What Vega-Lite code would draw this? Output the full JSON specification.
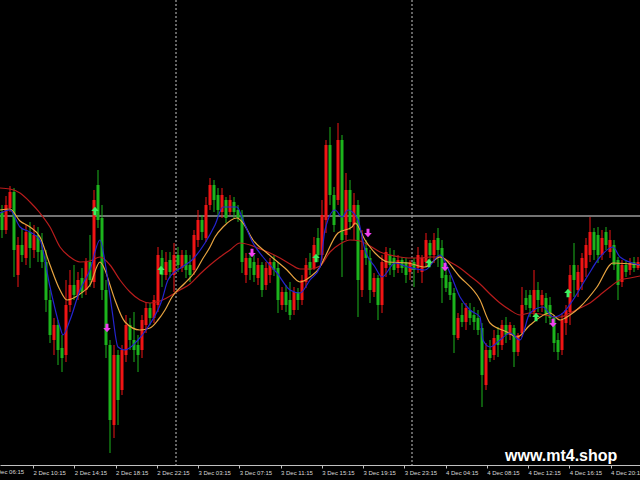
{
"$schema": "https://vega.github.io/schema/vega-lite/v6.json",
"width": 640, "height": 465,
"autosize": {"type": "none"},
"padding": {"left": 0, "top": 0, "right": 0, "bottom": 15},
"background": "#000000",
"config": {"view": {"stroke": null}, "font": "Liberation Sans"},
"datasets": {
"sep": [{"i": 43.5}, {"i": 102.5}],
"candles": [
{"i":0,"o":253,"c":235,"h":260,"l":227},{"i":1,"o":235,"c":260,"h":269,"l":231},{"i":2,"o":257,"c":273,"h":279,"l":253},{"i":3,"o":273,"c":215,"h":277,"l":188},{"i":4,"o":190,"c":220,"h":228,"l":178},
{"i":5,"o":220,"c":210,"h":237,"l":203},{"i":6,"o":207,"c":233,"h":240,"l":200},{"i":7,"o":233,"c":217,"h":243,"l":197},{"i":8,"o":215,"c":230,"h":240,"l":207},{"i":9,"o":230,"c":213,"h":238,"l":203},
{"i":10,"o":215,"c":203,"h":232,"l":197},{"i":11,"o":203,"c":165,"h":215,"l":153},{"i":12,"o":165,"c":130,"h":175,"l":122},{"i":13,"o":125,"c":140,"h":147,"l":110},{"i":14,"o":140,"c":115,"h":145,"l":100},
{"i":15,"o":117,"c":107,"h":130,"l":93},{"i":16,"o":110,"c":160,"h":185,"l":103},{"i":17,"o":160,"c":180,"h":195,"l":153},{"i":18,"o":180,"c":170,"h":200,"l":165},{"i":19,"o":170,"c":185,"h":193,"l":165},
{"i":20,"o":187,"c":173,"h":197,"l":167},{"i":21,"o":175,"c":203,"h":207,"l":170},{"i":22,"o":203,"c":185,"h":230,"l":178},{"i":23,"o":183,"c":265,"h":275,"l":177},{"i":24,"o":280,"c":245,"h":295,"l":237},
{"i":25,"o":247,"c":175,"h":260,"l":165},{"i":26,"o":175,"c":120,"h":185,"l":107},{"i":27,"o":120,"c":45,"h":125,"l":12},{"i":28,"o":40,"c":110,"h":120,"l":27},{"i":29,"o":110,"c":65,"h":115,"l":40},
{"i":30,"o":75,"c":115,"h":120,"l":70},{"i":31,"o":110,"c":140,"h":150,"l":103},{"i":32,"o":140,"c":125,"h":147,"l":115},{"i":33,"o":125,"c":115,"h":153,"l":103},{"i":34,"o":120,"c":110,"h":130,"l":93},
{"i":35,"o":115,"c":145,"h":150,"l":107},{"i":36,"o":140,"c":157,"h":163,"l":132},{"i":37,"o":157,"c":147,"h":162,"l":140},{"i":38,"o":147,"c":165,"h":170,"l":142},{"i":39,"o":160,"c":210,"h":218,"l":153},
{"i":40,"o":207,"c":190,"h":215,"l":178},{"i":41,"o":190,"c":203,"h":213,"l":185},{"i":42,"o":205,"c":193,"h":213,"l":187},{"i":43,"o":190,"c":210,"h":222,"l":173},{"i":44,"o":210,"c":200,"h":218,"l":193},
{"i":45,"o":197,"c":210,"h":215,"l":193},{"i":46,"o":210,"c":195,"h":215,"l":187},{"i":47,"o":200,"c":190,"h":210,"l":183},{"i":48,"o":195,"c":230,"h":235,"l":190},{"i":49,"o":225,"c":245,"h":255,"l":218},
{"i":50,"o":245,"c":233,"h":250,"l":225},{"i":51,"o":227,"c":260,"h":268,"l":223},{"i":52,"o":260,"c":280,"h":287,"l":255},{"i":53,"o":280,"c":265,"h":285,"l":253},{"i":54,"o":270,"c":255,"h":277,"l":248},
{"i":55,"o":253,"c":270,"h":277,"l":247},{"i":56,"o":265,"c":247,"h":268,"l":242},{"i":57,"o":253,"c":265,"h":270,"l":250},{"i":58,"o":263,"c":253,"h":268,"l":247},{"i":59,"o":255,"c":247,"h":260,"l":243},
{"i":60,"o":250,"c":203,"h":255,"l":192},{"i":61,"o":190,"c":207,"h":212,"l":182},{"i":62,"o":207,"c":197,"h":213,"l":185},{"i":63,"o":203,"c":190,"h":210,"l":183},{"i":64,"o":187,"c":200,"h":207,"l":180},
{"i":65,"o":200,"c":175,"h":203,"l":168},{"i":66,"o":180,"c":197,"h":203,"l":175},{"i":67,"o":190,"c":203,"h":207,"l":182},{"i":68,"o":203,"c":195,"h":210,"l":189},{"i":69,"o":197,"c":165,"h":203,"l":152},
{"i":70,"o":160,"c":173,"h":178,"l":155},{"i":71,"o":173,"c":160,"h":180,"l":153},{"i":72,"o":165,"c":150,"h":183,"l":145},{"i":73,"o":155,"c":173,"h":178,"l":150},{"i":74,"o":173,"c":165,"h":177,"l":155},
{"i":75,"o":165,"c":185,"h":190,"l":160},{"i":76,"o":183,"c":200,"h":207,"l":177},{"i":77,"o":203,"c":195,"h":212,"l":190},{"i":78,"o":197,"c":220,"h":228,"l":195},{"i":79,"o":227,"c":210,"h":237,"l":203},
{"i":80,"o":210,"c":250,"h":265,"l":205},{"i":81,"o":245,"c":320,"h":325,"l":232},{"i":82,"o":320,"c":270,"h":338,"l":260},{"i":83,"o":270,"c":240,"h":278,"l":233},{"i":84,"o":265,"c":325,"h":342,"l":260},
{"i":85,"o":325,"c":225,"h":330,"l":188},{"i":86,"o":230,"c":275,"h":292,"l":225},{"i":87,"o":275,"c":243,"h":285,"l":235},{"i":88,"o":240,"c":260,"h":272,"l":225},{"i":89,"o":260,"c":185,"h":265,"l":148},
{"i":90,"o":175,"c":215,"h":235,"l":168},{"i":91,"o":217,"c":207,"h":225,"l":200},{"i":92,"o":207,"c":175,"h":215,"l":162},{"i":93,"o":173,"c":187,"h":192,"l":168},{"i":94,"o":187,"c":160,"h":190,"l":145},
{"i":95,"o":160,"c":203,"h":210,"l":152},{"i":96,"o":197,"c":213,"h":218,"l":188},{"i":97,"o":210,"c":200,"h":217,"l":190},{"i":98,"o":207,"c":195,"h":215,"l":188},{"i":99,"o":197,"c":205,"h":210,"l":192},
{"i":100,"o":205,"c":197,"h":208,"l":192},{"i":101,"o":203,"c":190,"h":207,"l":182},{"i":102,"o":193,"c":203,"h":205,"l":185},{"i":103,"o":203,"c":195,"h":207,"l":178},{"i":104,"o":197,"c":210,"h":218,"l":192},
{"i":105,"o":193,"c":207,"h":210,"l":182},{"i":106,"o":203,"c":225,"h":232,"l":198},{"i":107,"o":222,"c":210,"h":225,"l":203},{"i":108,"o":210,"c":225,"h":232,"l":202},{"i":109,"o":227,"c":215,"h":237,"l":198},
{"i":110,"o":217,"c":187,"h":225,"l":162},{"i":111,"o":190,"c":177,"h":198,"l":173},{"i":112,"o":183,"c":170,"h":190,"l":165},{"i":113,"o":172,"c":130,"h":177,"l":112},{"i":114,"o":127,"c":147,"h":152,"l":125},
{"i":115,"o":150,"c":143,"h":162,"l":138},{"i":116,"o":143,"c":157,"h":162,"l":135},{"i":117,"o":155,"c":147,"h":162,"l":140},{"i":118,"o":150,"c":143,"h":158,"l":135},{"i":119,"o":147,"c":135,"h":155,"l":130},
{"i":120,"o":137,"c":90,"h":142,"l":58},{"i":121,"o":80,"c":115,"h":122,"l":75},{"i":122,"o":115,"c":107,"h":125,"l":103},{"i":123,"o":110,"c":127,"h":135,"l":105},{"i":124,"o":130,"c":120,"h":138,"l":108},
{"i":125,"o":120,"c":140,"h":145,"l":115},{"i":126,"o":140,"c":130,"h":148,"l":122},{"i":127,"o":130,"c":140,"h":143,"l":125},{"i":128,"o":137,"c":113,"h":140,"l":98},{"i":129,"o":113,"c":130,"h":132,"l":109},
{"i":130,"o":132,"c":160,"h":178,"l":128},{"i":131,"o":167,"c":160,"h":175,"l":155},{"i":132,"o":170,"c":157,"h":175,"l":148},{"i":133,"o":153,"c":175,"h":195,"l":149},{"i":134,"o":175,"c":165,"h":183,"l":153},
{"i":135,"o":160,"c":170,"h":175,"l":153},{"i":136,"o":167,"c":150,"h":172,"l":142},{"i":137,"o":160,"c":147,"h":168,"l":140},{"i":138,"o":147,"c":122,"h":150,"l":113},{"i":139,"o":125,"c":113,"h":132,"l":105},
{"i":140,"o":115,"c":145,"h":152,"l":110},{"i":141,"o":142,"c":155,"h":160,"l":130},{"i":142,"o":153,"c":190,"h":200,"l":140},{"i":143,"o":200,"c":185,"h":222,"l":168},{"i":144,"o":175,"c":193,"h":200,"l":168},
{"i":145,"o":183,"c":207,"h":212,"l":175},{"i":146,"o":197,"c":220,"h":227,"l":188},{"i":147,"o":210,"c":233,"h":248,"l":203},{"i":148,"o":233,"c":215,"h":237,"l":205},{"i":149,"o":230,"c":210,"h":238,"l":202},
{"i":150,"o":210,"c":227,"h":235,"l":205},{"i":151,"o":233,"c":220,"h":238,"l":215},{"i":152,"o":213,"c":225,"h":235,"l":207},{"i":153,"o":220,"c":200,"h":225,"l":195},{"i":154,"o":205,"c":180,"h":208,"l":165},
{"i":155,"o":183,"c":200,"h":205,"l":178},{"i":156,"o":200,"c":193,"h":205,"l":188},{"i":157,"o":195,"c":202,"h":207,"l":190},{"i":158,"o":203,"c":197,"h":208,"l":193},{"i":159,"o":197,"c":203,"h":208,"l":195}
],
"ma": [
{"k":"s","i":-0.5,"v":277},{"k":"s","i":2,"v":276},{"k":"s","i":4.5,"v":272},{"k":"s","i":7,"v":263},{"k":"s","i":9.5,"v":252},{"k":"s","i":12,"v":238},{"k":"s","i":14.5,"v":218},{"k":"s","i":17,"v":208},{"k":"s","i":19.5,"v":203},{"k":"s","i":22,"v":204},{"k":"s","i":24.5,"v":208},{"k":"s","i":27,"v":200},{"k":"s","i":29.5,"v":185},{"k":"s","i":32,"v":173},{"k":"s","i":34.5,"v":165},{"k":"s","i":37,"v":162},{"k":"s","i":39.5,"v":164},{"k":"s","i":42,"v":169},{"k":"s","i":44.5,"v":175},{"k":"s","i":47,"v":181},{"k":"s","i":49.5,"v":191},{"k":"s","i":52,"v":200},{"k":"s","i":54.5,"v":208},{"k":"s","i":57,"v":215},{"k":"s","i":59.5,"v":222},{"k":"s","i":62,"v":220},{"k":"s","i":64.5,"v":216},{"k":"s","i":67,"v":212},{"k":"s","i":69.5,"v":207},{"k":"s","i":72,"v":201},{"k":"s","i":74.5,"v":196},{"k":"s","i":77,"v":196},{"k":"s","i":79.5,"v":199},{"k":"s","i":82,"v":213},{"k":"s","i":84.5,"v":221},{"k":"s","i":87,"v":225},{"k":"s","i":89.5,"v":224},{"k":"s","i":92,"v":219},{"k":"s","i":94.5,"v":213},{"k":"s","i":97,"v":210},{"k":"s","i":99.5,"v":208},{"k":"s","i":102,"v":207},{"k":"s","i":104.5,"v":207},{"k":"s","i":107,"v":208},{"k":"s","i":109.5,"v":208},{"k":"s","i":112,"v":203},{"k":"s","i":114.5,"v":197},{"k":"s","i":117,"v":189},{"k":"s","i":119.5,"v":181},{"k":"s","i":122,"v":171},{"k":"s","i":124.5,"v":162},{"k":"s","i":127,"v":155},{"k":"s","i":129.5,"v":150},{"k":"s","i":132,"v":152},{"k":"s","i":134.5,"v":151},{"k":"s","i":137,"v":149},{"k":"s","i":139.5,"v":148},{"k":"s","i":142,"v":152},{"k":"s","i":144.5,"v":157},{"k":"s","i":147,"v":162},{"k":"s","i":149.5,"v":170},{"k":"s","i":152,"v":178},{"k":"s","i":154.5,"v":185},{"k":"s","i":157,"v":187},{"k":"s","i":159.5,"v":189},
{"k":"m","i":-0.5,"v":255},{"k":"m","i":2,"v":256},{"k":"m","i":4.5,"v":244},{"k":"m","i":7,"v":238},{"k":"m","i":9.5,"v":228},{"k":"m","i":12,"v":200},{"k":"m","i":14.5,"v":175},{"k":"m","i":16.25,"v":165},{"k":"m","i":19.5,"v":171},{"k":"m","i":22,"v":180},{"k":"m","i":24.5,"v":203},{"k":"m","i":25.75,"v":195},{"k":"m","i":27,"v":180},{"k":"m","i":28.25,"v":165},{"k":"m","i":30.75,"v":143},{"k":"m","i":34.5,"v":135},{"k":"m","i":37,"v":137},{"k":"m","i":39,"v":145},{"k":"m","i":40.75,"v":155},{"k":"m","i":42.5,"v":168},{"k":"m","i":45.75,"v":182},{"k":"m","i":48.25,"v":193},{"k":"m","i":50,"v":205},{"k":"m","i":52,"v":218},{"k":"m","i":53.25,"v":228},{"k":"m","i":55.25,"v":238},{"k":"m","i":58.75,"v":247},{"k":"m","i":60.25,"v":242},{"k":"m","i":62.75,"v":225},{"k":"m","i":66.25,"v":212},{"k":"m","i":71.25,"v":195},{"k":"m","i":74.5,"v":183},{"k":"m","i":77,"v":188},{"k":"m","i":79.5,"v":198},{"k":"m","i":80.75,"v":208},{"k":"m","i":84,"v":232},{"k":"m","i":87.5,"v":238},{"k":"m","i":88.25,"v":242},{"k":"m","i":90.75,"v":225},{"k":"m","i":93.25,"v":212},{"k":"m","i":96.5,"v":203},{"k":"m","i":101.5,"v":202},{"k":"m","i":105.75,"v":198},{"k":"m","i":109.5,"v":208},{"k":"m","i":114.5,"v":188},{"k":"m","i":119.5,"v":165},{"k":"m","i":122,"v":142},{"k":"m","i":126.25,"v":133},{"k":"m","i":128.75,"v":128},{"k":"m","i":132,"v":140},{"k":"m","i":137,"v":152},{"k":"m","i":139.5,"v":145},{"k":"m","i":142,"v":150},{"k":"m","i":144.5,"v":158},{"k":"m","i":148.75,"v":178},{"k":"m","i":152.75,"v":202},{"k":"m","i":159.5,"v":200},
{"k":"f","i":-0.5,"v":252},{"k":"f","i":2,"v":255},{"k":"f","i":4.5,"v":238},{"k":"f","i":7,"v":233},{"k":"f","i":9.5,"v":225},{"k":"f","i":12,"v":178},{"k":"f","i":14.5,"v":138},{"k":"f","i":15.25,"v":130},{"k":"f","i":17,"v":145},{"k":"f","i":19.5,"v":175},{"k":"f","i":22,"v":195},{"k":"f","i":24.5,"v":225},{"k":"f","i":25.75,"v":203},{"k":"f","i":27.5,"v":155},{"k":"f","i":29,"v":118},{"k":"f","i":30.75,"v":115},{"k":"f","i":34,"v":125},{"k":"f","i":36.5,"v":138},{"k":"f","i":40,"v":165},{"k":"f","i":41.5,"v":185},{"k":"f","i":45,"v":198},{"k":"f","i":47.5,"v":205},{"k":"f","i":50.75,"v":222},{"k":"f","i":53.25,"v":240},{"k":"f","i":55.25,"v":258},{"k":"f","i":58.75,"v":258},{"k":"f","i":60.25,"v":245},{"k":"f","i":62.75,"v":222},{"k":"f","i":65.25,"v":208},{"k":"f","i":68.75,"v":192},{"k":"f","i":72,"v":175},{"k":"f","i":74.5,"v":172},{"k":"f","i":77,"v":185},{"k":"f","i":79.5,"v":198},{"k":"f","i":80.75,"v":235},{"k":"f","i":83.25,"v":255},{"k":"f","i":85,"v":248},{"k":"f","i":86.5,"v":255},{"k":"f","i":89,"v":245},{"k":"f","i":90.75,"v":215},{"k":"f","i":93.25,"v":198},{"k":"f","i":95,"v":188},{"k":"f","i":98.25,"v":202},{"k":"f","i":101.5,"v":198},{"k":"f","i":105.75,"v":195},{"k":"f","i":109.5,"v":210},{"k":"f","i":112,"v":192},{"k":"f","i":114.5,"v":168},{"k":"f","i":117,"v":155},{"k":"f","i":119.5,"v":148},{"k":"f","i":120.25,"v":125},{"k":"f","i":122,"v":118},{"k":"f","i":124.5,"v":125},{"k":"f","i":127,"v":132},{"k":"f","i":129.5,"v":125},{"k":"f","i":132,"v":152},{"k":"f","i":135.25,"v":158},{"k":"f","i":137.75,"v":148},{"k":"f","i":140.25,"v":152},{"k":"f","i":142.75,"v":165},{"k":"f","i":146.25,"v":188},{"k":"f","i":149.5,"v":208},{"k":"f","i":152.75,"v":218},{"k":"f","i":154.5,"v":208},{"k":"f","i":159.5,"v":200}
],
"arrows": [
{"i":23.25,"v":254,"d":"up"},{"i":39.75,"v":195,"d":"up"},{"i":78.5,"v":207,"d":"up"},{"i":106.75,"v":202,"d":"up"},{"i":133.5,"v":148,"d":"up"},{"i":141.5,"v":172,"d":"up"},
{"i":26.25,"v":137,"d":"dn"},{"i":62.5,"v":212,"d":"dn"},{"i":91.5,"v":232,"d":"dn"},{"i":110.75,"v":198,"d":"dn"},{"i":137.75,"v":142,"d":"dn"}
],
"edge": [{"i":-2.5625,"v":-4,"t":"2 Dec 06:15"}],
"wm": [{"i":125.75,"v":4,"t":"www.mt4.shop"}]
},
"layer": [
{"data": {"name": "sep"},
 "mark": {"type": "rule", "strokeWidth": 1, "strokeDash": [2, 2], "color": "#c8c8c8"},
 "encoding": {"x": {"field": "i", "type": "quantitative", "scale": {"domain": [-0.5, 159.5], "nice": false, "zero": false},
   "axis": {"values": [7.75, 18.0625, 28.375, 38.6875, 49, 59.3125, 69.625, 79.9375, 90.25, 100.5625, 110.875, 121.1875, 131.5, 141.8125, 152.125],
     "labelExpr": "['2 Dec 10:15','2 Dec 14:15','2 Dec 18:15','2 Dec 22:15','3 Dec 03:15','3 Dec 07:15','3 Dec 11:15','3 Dec 15:15','3 Dec 19:15','3 Dec 23:15','4 Dec 04:15','4 Dec 08:15','4 Dec 12:15','4 Dec 16:15','4 Dec 20:15'][round((datum.value - 7.75) / 10.3125)]",
     "labelAlign": "left", "labelBaseline": "top", "labelFontSize": 6, "labelFont": "Liberation Sans", "labelColor": "#d8d8d8", "labelPadding": 1,
     "labelOverlap": false, "labelFlush": false, "tickSize": 3, "tickColor": "#c0c0c0", "domainColor": "#c0c0c0", "grid": false, "title": null}}}},
{"data": {"values": [{"v": 249}]},
 "mark": {"type": "rule", "strokeWidth": 1.5, "color": "#9a9a9a"},
 "encoding": {"y": {"field": "v", "type": "quantitative", "scale": {"domain": [0, 465], "nice": false, "zero": false}, "axis": null}}},
{"data": {"name": "candles"},
 "mark": {"type": "rule", "strokeWidth": 1},
 "encoding": {"x": {"field": "i", "type": "quantitative", "scale": {"domain": [-0.5, 159.5], "nice": false, "zero": false}},
   "y": {"field": "l", "type": "quantitative", "scale": {"domain": [0, 465], "nice": false, "zero": false}, "axis": null}, "y2": {"field": "h"},
   "color": {"condition": {"test": "datum.c > datum.o", "value": "#f01414"}, "value": "#1cb41c"}}},
{"data": {"name": "candles"},
 "mark": {"type": "rule", "strokeWidth": 3},
 "encoding": {"x": {"field": "i", "type": "quantitative", "scale": {"domain": [-0.5, 159.5], "nice": false, "zero": false}},
   "y": {"field": "o", "type": "quantitative", "scale": {"domain": [0, 465], "nice": false, "zero": false}, "axis": null}, "y2": {"field": "c"},
   "color": {"condition": {"test": "datum.c > datum.o", "value": "#f01414"}, "value": "#1cb41c"}}},
{"data": {"name": "ma"},
 "mark": {"type": "line", "interpolate": "monotone", "strokeWidth": 1.2},
 "encoding": {"x": {"field": "i", "type": "quantitative", "scale": {"domain": [-0.5, 159.5], "nice": false, "zero": false}},
   "y": {"field": "v", "type": "quantitative", "scale": {"domain": [0, 465], "nice": false, "zero": false}, "axis": null},
   "color": {"field": "k", "type": "nominal", "scale": {"domain": ["s", "m", "f"], "range": ["#b81c1c", "#e8a440", "#2424d0"]}, "legend": null}}},
{"data": {"name": "arrows"},
 "transform": [{"filter": "datum.d == 'up'"}],
 "mark": {"type": "point", "filled": true, "size": 70, "opacity": 1, "color": "#3cf060", "shape": "M0,-1L0.9,0L0.35,0L0.35,1L-0.35,1L-0.35,0L-0.9,0Z"},
 "encoding": {"x": {"field": "i", "type": "quantitative", "scale": {"domain": [-0.5, 159.5], "nice": false, "zero": false}},
   "y": {"field": "v", "type": "quantitative", "scale": {"domain": [0, 465], "nice": false, "zero": false}, "axis": null}}},
{"data": {"name": "arrows"},
 "transform": [{"filter": "datum.d == 'dn'"}],
 "mark": {"type": "point", "filled": true, "size": 70, "opacity": 1, "color": "#f040f0", "shape": "M0,1L0.9,0L0.35,0L0.35,-1L-0.35,-1L-0.35,0L-0.9,0Z"},
 "encoding": {"x": {"field": "i", "type": "quantitative", "scale": {"domain": [-0.5, 159.5], "nice": false, "zero": false}},
   "y": {"field": "v", "type": "quantitative", "scale": {"domain": [0, 465], "nice": false, "zero": false}, "axis": null}}},
{"data": {"name": "edge"},
 "mark": {"type": "text", "align": "left", "baseline": "top", "fontSize": 6, "font": "Liberation Sans", "color": "#d8d8d8"},
 "encoding": {"x": {"field": "i", "type": "quantitative", "scale": {"domain": [-0.5, 159.5], "nice": false, "zero": false}},
   "y": {"field": "v", "type": "quantitative", "scale": {"domain": [0, 465], "nice": false, "zero": false}, "axis": null},
   "text": {"field": "t"}}},
{"data": {"name": "wm"},
 "mark": {"type": "text", "align": "left", "baseline": "alphabetic", "fontSize": 16, "fontWeight": "bold", "font": "Liberation Sans", "color": "#ffffff"},
 "encoding": {"x": {"field": "i", "type": "quantitative", "scale": {"domain": [-0.5, 159.5], "nice": false, "zero": false}},
   "y": {"field": "v", "type": "quantitative", "scale": {"domain": [0, 465], "nice": false, "zero": false}, "axis": null},
   "text": {"field": "t"}}}
]
}
